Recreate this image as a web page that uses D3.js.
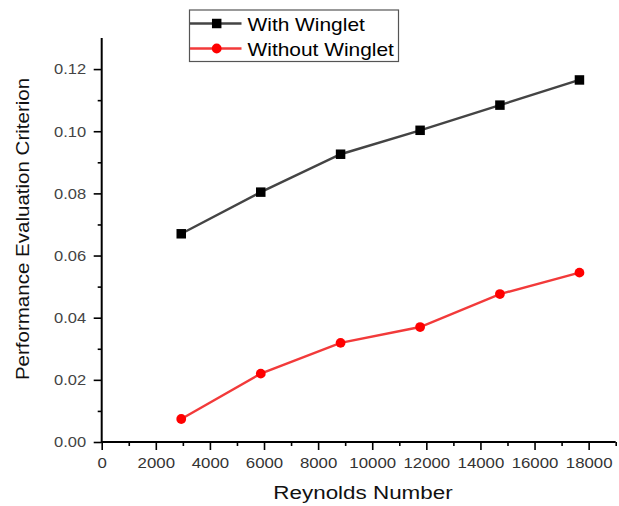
<!DOCTYPE html>
<html>
<head>
<meta charset="utf-8">
<script src="https://cdn.jsdelivr.net/npm/d3@7"></script>
<style>
  html, body { margin: 0; padding: 0; background: #fff; }
  svg { display: block; font-family: "Liberation Sans", Arial, sans-serif; }
</style>
</head>
<body>
<svg id="chart" width="619" height="506"></svg>
<script>
// Reynolds numbers tested
const reynolds = [2940, 5880, 8830, 11770, 14720, 17660];
// Performance evaluation criterion for each configuration
const withWinglet = [0.0670, 0.0804, 0.0926, 0.1003, 0.1084, 0.1165];
const withoutWinglet = [0.0074, 0.0220, 0.0319, 0.0370, 0.0476, 0.0545];

const seriesNames = ["With Winglet", "Without Winglet"];
const xMajorTicks = [0, 2000, 4000, 6000, 8000, 10000, 12000, 14000, 16000, 18000];
const xMinorTicks = [1000, 3000, 5000, 7000, 9000, 11000, 13000, 15000, 17000, 19000];
const yMajorTicks = [0, 0.02, 0.04, 0.06, 0.08, 0.10, 0.12];
const yMinorTicks = [0.01, 0.03, 0.05, 0.07, 0.09, 0.11];

const svg = d3.select("#chart");
const plotLeft = 101.7, plotRight = 615.7, plotTop = 38, plotBottom = 442;

const x = d3.scaleLinear().domain([0, 19000]).range([plotLeft, plotRight]);
const y = d3.scaleLinear().domain([0, 0.13]).range([plotBottom, plotTop]);

// stretch text horizontally a little (wide rendering of the figure fonts)
function widen(sel, k) {
  sel.each(function () {
    const w = this.getComputedTextLength();
    if (w > 0) {
      d3.select(this).attr("textLength", w * k).attr("lengthAdjust", "spacingAndGlyphs");
    }
  });
}

// X axis
const gx = svg.append("g").attr("transform", `translate(0,${plotBottom})`);
gx.call(d3.axisBottom(x).tickValues(xMajorTicks).tickSize(8).tickFormat(d3.format("d")));
const gxm = svg.append("g").attr("transform", `translate(0,${plotBottom})`);
gxm.call(d3.axisBottom(x).tickValues(xMinorTicks).tickSize(4).tickFormat(""));
[gx, gxm].forEach(g => {
  g.select(".domain").remove();
  g.selectAll(".tick line").attr("stroke", "#000").attr("stroke-width", 1.6);
});
gx.selectAll(".tick text")
  .attr("y", 25.7).attr("dy", 0)
  .attr("fill", "#333").style("font-size", "15px");
widen(gx.selectAll(".tick text"), 1.12);

// Y axis
const gy = svg.append("g").attr("transform", `translate(${plotLeft},0)`);
gy.call(d3.axisLeft(y).tickValues(yMajorTicks).tickSize(8).tickFormat(d3.format(".2f")));
const gym = svg.append("g").attr("transform", `translate(${plotLeft},0)`);
gym.call(d3.axisLeft(y).tickValues(yMinorTicks).tickSize(4).tickFormat(""));
[gy, gym].forEach(g => {
  g.select(".domain").remove();
  g.selectAll(".tick line").attr("stroke", "#000").attr("stroke-width", 1.6);
});
gy.selectAll(".tick text")
  .attr("x", -15.5)
  .attr("fill", "#444").style("font-size", "15px");
widen(gy.selectAll(".tick text"), 1.1);

// axis lines
svg.append("line").attr("x1", plotLeft).attr("x2", plotRight).attr("y1", plotBottom).attr("y2", plotBottom)
  .attr("stroke", "#000").attr("stroke-width", 2);
svg.append("line").attr("x1", plotLeft).attr("x2", plotLeft).attr("y1", plotTop).attr("y2", plotBottom + 1)
  .attr("stroke", "#000").attr("stroke-width", 2);

// axis titles
const xt = svg.append("text").attr("x", 363).attr("y", 499).attr("text-anchor", "middle")
  .style("font-size", "17.5px").attr("fill", "#111").text("Reynolds Number");
widen(xt, 1.28);
const yt = svg.append("text").attr("transform", "translate(29,229) rotate(-90)")
  .attr("text-anchor", "middle").style("font-size", "18px").attr("fill", "#111")
  .text("Performance Evaluation Criterion");
widen(yt, 1.14);

// series
const series = [
  { name: seriesNames[0], values: withWinglet, line: "#444", marker: "#000", shape: d3.symbolSquare },
  { name: seriesNames[1], values: withoutWinglet, line: "#f23a3a", marker: "#ff0000", shape: d3.symbolCircle }
];
const lineGen = d3.line().x(d => x(d[0])).y(d => y(d[1]));

series.forEach(s => {
  const pts = reynolds.map((r, i) => [r, s.values[i]]);
  svg.append("path").datum(pts).attr("d", lineGen)
    .attr("fill", "none").attr("stroke", s.line).attr("stroke-width", 2.4);
  svg.append("g").selectAll("path").data(pts).join("path")
    .attr("transform", d => `translate(${x(d[0])},${y(d[1])})`)
    .attr("d", d3.symbol().type(s.shape).size(s.shape === d3.symbolSquare ? 90 : 75))
    .attr("fill", s.marker);
});

// legend
const lg = svg.append("g");
lg.append("rect").attr("x", 189.5).attr("y", 10).attr("width", 209).attr("height", 51.5)
  .attr("fill", "#fff").attr("stroke", "#555").attr("stroke-width", 1.2);
series.forEach((s, i) => {
  const cy = 23.5 + i * 25;
  lg.append("line").attr("x1", 190).attr("x2", 241.5).attr("y1", cy).attr("y2", cy)
    .attr("stroke", s.line).attr("stroke-width", 2.4);
  lg.append("path").attr("transform", `translate(216.7,${cy})`)
    .attr("d", d3.symbol().type(s.shape).size(s.shape === d3.symbolSquare ? 90 : 75))
    .attr("fill", s.marker);
  const t = lg.append("text").attr("x", 247.5).attr("y", cy + 7.5)
    .style("font-size", "18.5px").attr("fill", "#000").text(s.name);
  widen(t, 1.13);
});
</script>
</body>
</html>
